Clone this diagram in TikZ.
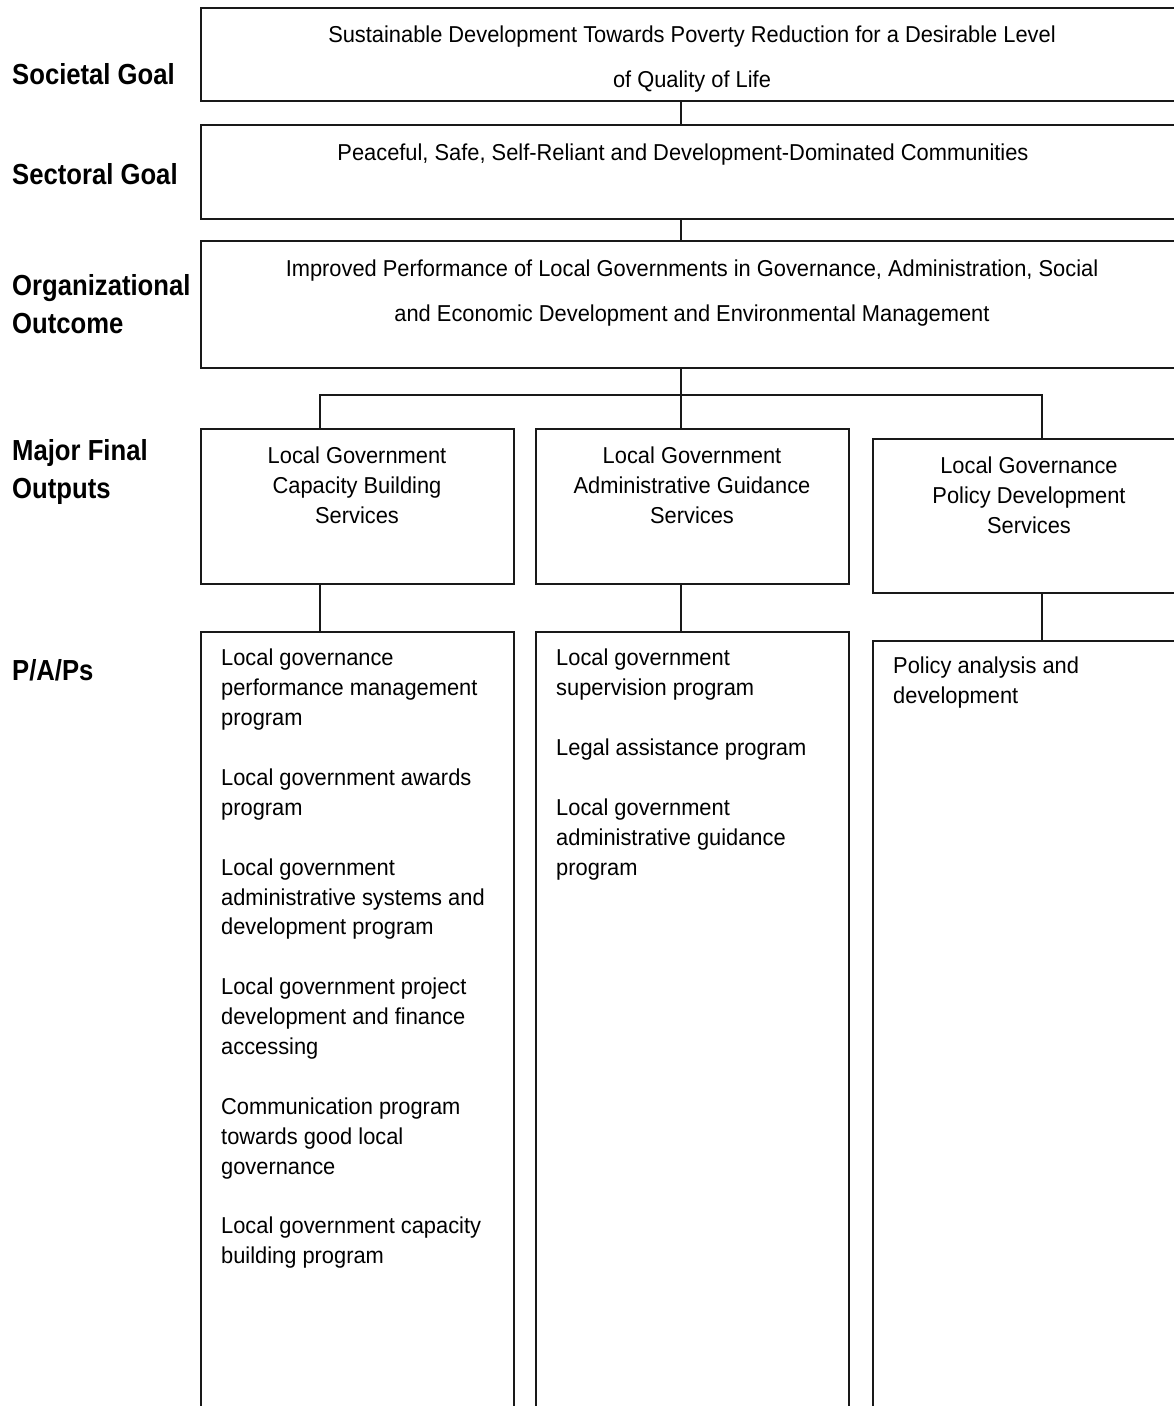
\documentclass[tikz,border=0pt]{standalone}
\usepackage{fontspec}
\setmainfont{Liberation Sans}
\newfontfamily\regf{Liberation Sans}[FakeStretch=0.95]
\newfontfamily\labf{Liberation Sans}[FakeStretch=0.885]
\begin{document}
\begin{tikzpicture}[x=1pt,y=-1pt,
  box/.style={draw=black!90,line width=1.5pt,inner sep=0pt,fill=none},
  wire/.style={draw=black!90,line width=1.5pt},
  txt/.style={inner sep=0pt,font=\regf\fontsize{23}{29.9}\selectfont},
  ltxt/.style={inner sep=0pt,anchor=west,align=left,font=\labf\bfseries\fontsize{29}{38}\selectfont},
  list/.style={txt,anchor=north west,align=left}]
\useasboundingbox (0,0) rectangle (1174,1406);
\clip (0,0) rectangle (1174,1406);
% level boxes
\node[box,minimum width=985pt,minimum height=93pt,anchor=north west] (g1) at (200,7) {};
\node[box,minimum width=985pt,minimum height=94pt,anchor=north west] (g2) at (200,124) {};
\node[box,minimum width=985pt,minimum height=127pt,anchor=north west] (g3) at (200,240) {};
\node[box,minimum width=313pt,minimum height=155pt,anchor=north west] (mA) at (200,428) {};
\node[box,minimum width=313pt,minimum height=155pt,anchor=north west] (mB) at (535,428) {};
\node[box,minimum width=313pt,minimum height=154pt,anchor=north west] (mC) at (872,438) {};
\node[box,minimum width=313pt,minimum height=790pt,anchor=north west] (pA) at (200,631) {};
\node[box,minimum width=313pt,minimum height=790pt,anchor=north west] (pB) at (535,631) {};
\node[box,minimum width=313pt,minimum height=790pt,anchor=north west] (pC) at (872,640) {};
% bus coordinates
\coordinate (busL) at (320,395);
\coordinate (busM) at (681,395);
\coordinate (busR) at (1042,395);
% connectors
\draw[wire] (busM |- g1.south) -- (busM |- g2.north);
\draw[wire] (busM |- g2.south) -- (busM |- g3.north);
\draw[wire] (busM |- g3.south) -- (busM);
\draw[wire] (busL |- mA.north) -- (busL) -- (busR) -- (busR |- mC.north);
\draw[wire] (busM) -- (busM |- mB.north);
\draw[wire] (busL |- mA.south) -- (busL |- pA.north);
\draw[wire] (busM |- mB.south) -- (busM |- pB.north);
\draw[wire] (busR |- mC.south) -- (busR |- pC.north);
% box texts
\node[txt,align=center,font=\regf\fontsize{23}{45}\selectfont] (t1) at (692,59.5) {Sustainable Development Towards Poverty Reduction for a Desirable Level\\of Quality of Life};
\node[txt] (t2) at (683,155) {Peaceful, Safe, Self-Reliant and Development-Dominated Communities};
\node[txt,align=center,font=\regf\fontsize{23}{45}\selectfont] (t3) at (692,293) {Improved Performance of Local Governments in Governance, Administration, Social\\and Economic Development and Environmental Management};
\node[txt,align=center] (tA) at (357,485.5) {Local Government\\Capacity Building\\Services};
\node[txt,align=center] (tB) at (692,485.5) {Local Government\\Administrative Guidance\\Services};
\node[txt,align=center] (tC) at (1029,495) {Local Governance\\Policy Development\\Services};
\node[list] (lA) at (221,649) {Local governance\\performance management\\program\\[29.9pt]Local government awards\\program\\[29.9pt]Local government\\administrative systems and\\development program\\[29.9pt]Local government project\\development and finance\\accessing\\[29.9pt]Communication program\\towards good local\\governance\\[29.9pt]Local government capacity\\building program};
\node[list] (lB) at (556,649) {Local government\\supervision program\\[29.9pt]Legal assistance program\\[29.9pt]Local government\\administrative guidance\\program};
\node[list] (lC) at (893,657) {Policy analysis and\\development};
% row labels
\node[ltxt] (r1) at (12,74) {Societal Goal};
\node[ltxt] (r2) at (12,174) {Sectoral Goal};
\node[ltxt] (r3) at (12,304) {Organizational\\Outcome};
\node[ltxt] (r4) at (12,472) {Major Final\\Outputs};
\node[ltxt] (r5) at (12,670) {P/A/Ps};
\end{tikzpicture}
\end{document}
